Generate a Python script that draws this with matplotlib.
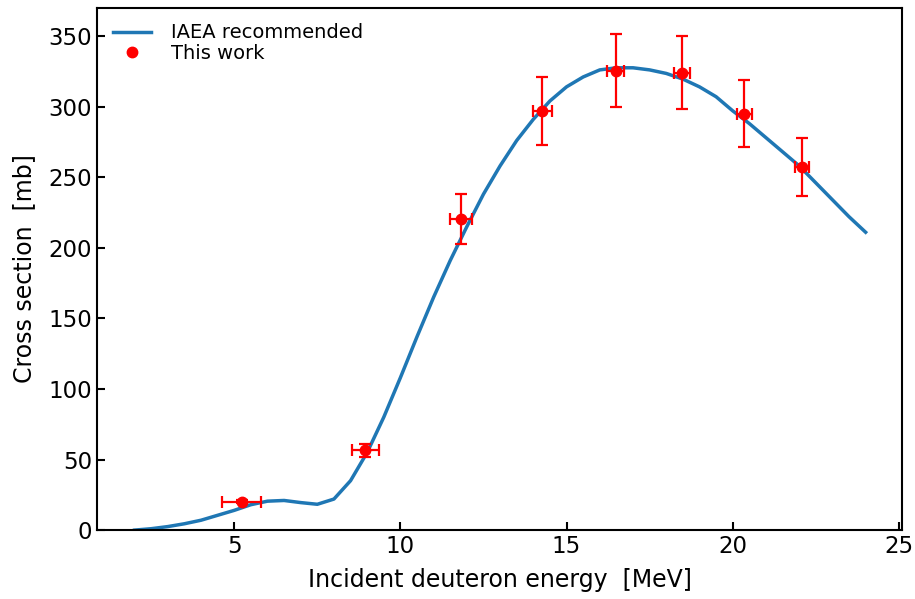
import matplotlib
matplotlib.use("Agg")
import matplotlib.pyplot as plt

# IAEA recommended curve
iaea_energy = [2.0, 2.5, 3.0, 3.5, 4.0, 4.5, 5.0, 5.5, 6.0, 6.5, 7.0, 7.5, 8.0, 8.5,
               9.0, 9.5, 10.0, 10.5, 11.0, 11.5, 12.0, 12.5, 13.0, 13.5, 14.0, 14.5,
               15.0, 15.5, 16.0, 16.5, 17.0, 17.5, 18.0, 18.5, 19.0, 19.5, 20.0, 20.5,
               21.0, 21.5, 22.0, 22.5, 23.0, 23.5, 24.0]
iaea_xs = [0.0, 1.0, 2.5, 4.5, 7.0, 10.5, 14.0, 18.0, 20.5, 21.0, 19.5, 18.3, 22.0, 35.0,
           55.0, 80.0, 108.0, 137.0, 165.0, 191.0, 215.0, 238.0, 258.0, 276.0, 291.0, 304.0,
           314.0, 321.0, 326.0, 327.5, 327.5, 326.0, 323.5, 319.5, 314.0, 307.0, 297.0, 288.0,
           278.0, 268.0, 258.0, 246.0, 234.0, 222.0, 211.0]

# measured points
exp_energy = [5.22, 8.94, 11.82, 14.27, 16.48, 18.48, 20.35, 22.08]
exp_energy_err = [0.58, 0.41, 0.33, 0.28, 0.26, 0.24, 0.23, 0.22]
exp_xs = [20.0, 56.5, 220.3, 296.8, 325.4, 324.0, 295.0, 257.0]
exp_xs_err = [1.0, 4.5, 17.5, 24.0, 26.0, 26.0, 23.6, 20.5]

plt.rcParams["font.family"] = "DejaVu Sans"

fig = plt.figure(figsize=(9.15, 5.99), dpi=100)
ax = fig.add_axes([0.106, 0.115, 0.880, 0.872])

ax.plot(iaea_energy, iaea_xs, color="#1f77b4", linewidth=2.5, label="IAEA recommended")
ax.errorbar(exp_energy, exp_xs, xerr=exp_energy_err, yerr=exp_xs_err, fmt="none",
            ecolor="red", capsize=4, elinewidth=1.6, capthick=1.6)
ax.plot(exp_energy, exp_xs, "o", color="red", markersize=7.5, label="This work")

ax.set_xlim(0.87, 25.1)
ax.set_ylim(0, 370)
ax.set_xticks([5, 10, 15, 20, 25])
ax.set_yticks(range(0, 351, 50))
ax.set_xlabel("Incident deuteron energy  [MeV]", fontsize=17, labelpad=7)
ax.set_ylabel("Cross section  [mb]", fontsize=17, labelpad=9)
ax.tick_params(direction="in", length=6, width=1.5, labelsize=16.5)
for sp in ax.spines.values():
    sp.set_linewidth(1.5)

ax.legend(loc="upper left", frameon=False, fontsize=14, borderaxespad=0.4,
          handletextpad=1.0, labelspacing=0.1)

fig.savefig("out.png")
